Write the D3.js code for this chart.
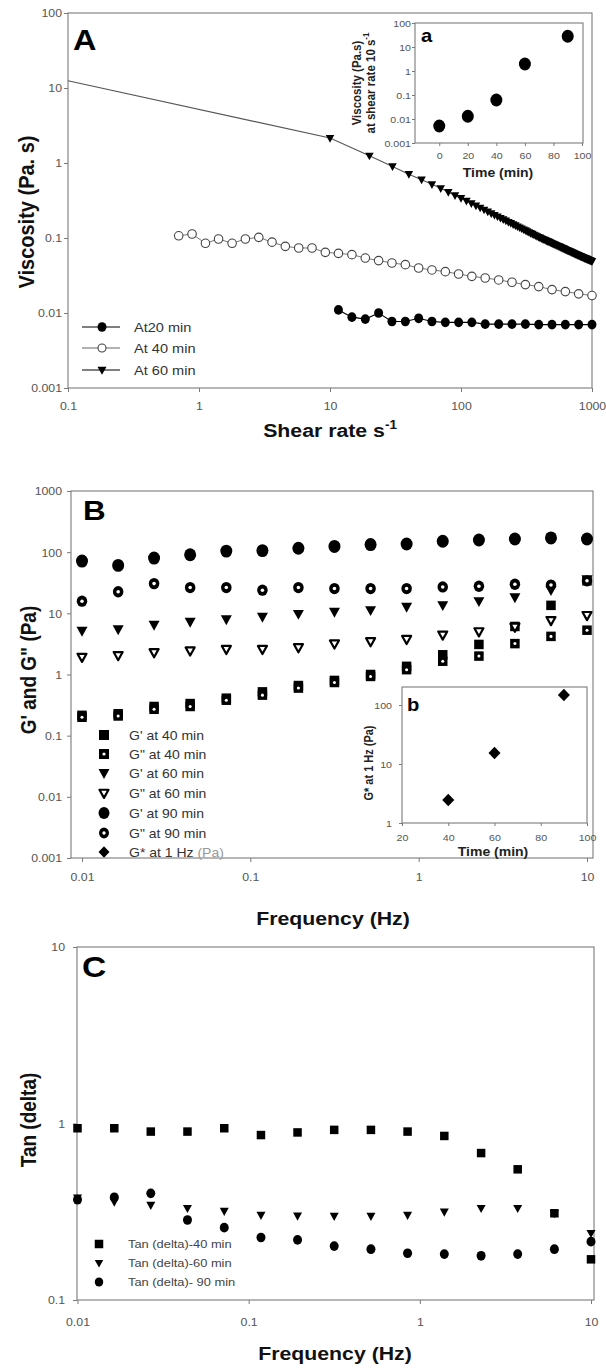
<!DOCTYPE html>
<html><head><meta charset="utf-8">
<script src="https://cdn.jsdelivr.net/npm/d3@7/dist/d3.min.js"></script>
<style>
html,body{margin:0;padding:0;background:#fff;}
svg{display:block;}
</style></head>
<body>
<svg id="chart" width="606" height="1369"></svg>
<script>
// ================= DATA =================
// ---- Panel A : viscosity vs shear rate ----
const shearTicksA = [0.1, 1, 10, 100, 1000];
const shearTickLabelsA = ["0.1", "1", "10", "100", "1000"];
const viscTicksA = [0.001, 0.01, 0.1, 1, 10, 100];
const viscTickLabelsA = ["0.001", "0.01", "0.1", "1", "10", "100"];

const shear20 = [11.6, 14.7, 18.6, 23.5, 29.7, 37.6, 47.5, 60.0, 75.9, 95.9, 121, 153, 194, 245, 310, 392, 495, 626, 791, 1000];
const visc20  = [0.0110, 0.0088, 0.0083, 0.0100, 0.0077, 0.0077, 0.0085, 0.0077, 0.0075, 0.0075, 0.0075, 0.0071, 0.0071, 0.0071, 0.0071, 0.0070, 0.0070, 0.0070, 0.0070, 0.0070];

const shear40 = [0.70, 0.885, 1.12, 1.41, 1.79, 2.26, 2.86, 3.61, 4.56, 5.77, 7.29, 9.21, 11.6, 14.7, 18.6, 23.5, 29.7, 37.6, 47.5, 60.0, 75.9, 95.9, 121, 153, 194, 245, 310, 392, 495, 626, 791, 1000];
const visc40  = [0.107, 0.113, 0.085, 0.097, 0.085, 0.097, 0.102, 0.088, 0.0774, 0.0736, 0.0736, 0.0644, 0.0624, 0.060, 0.054, 0.050, 0.0464, 0.0441, 0.0398, 0.0375, 0.0356, 0.0331, 0.0308, 0.0293, 0.0276, 0.0257, 0.0239, 0.0225, 0.0205, 0.0193, 0.0180, 0.0171];

const shear60 = [10, 20, 30, 40, 50, 60, 70, 80, 90, 100,
  110, 120, 130, 140, 150, 160, 170, 180, 190, 200,
  210, 220, 230, 240, 250, 260, 270, 280, 290, 300,
  310, 320, 330, 340, 350, 360, 370, 380, 390, 400,
  410, 420, 430, 440, 450, 460, 470, 480, 490, 500,
  510, 520, 530, 540, 550, 560, 570, 580, 590, 600,
  610, 620, 630, 640, 650, 660, 670, 680, 690, 700,
  710, 720, 730, 740, 750, 760, 770, 780, 790, 800,
  810, 820, 830, 840, 850, 860, 870, 880, 890, 900,
  910, 920, 930, 940, 950, 960, 970, 980, 990, 1000];
const visc60 = [2.15, 1.25, 0.90, 0.71, 0.60, 0.52, 0.46, 0.41, 0.37, 0.34,
  0.3127, 0.2897, 0.2701, 0.2531, 0.2382, 0.2250, 0.2134, 0.2029, 0.1935, 0.1850,
  0.1773, 0.1702, 0.1637, 0.1578, 0.1523, 0.1471, 0.1424, 0.1379, 0.1338, 0.1299,
  0.1262, 0.1227, 0.1195, 0.1164, 0.1135, 0.1107, 0.1081, 0.1056, 0.1033, 0.1010,
  0.0990, 0.0971, 0.0953, 0.0936, 0.0919, 0.0903, 0.0888, 0.0873, 0.0859, 0.0845,
  0.0832, 0.0819, 0.0806, 0.0794, 0.0783, 0.0772, 0.0761, 0.0750, 0.0740, 0.0730,
  0.0721, 0.0711, 0.0702, 0.0693, 0.0685, 0.0677, 0.0668, 0.0661, 0.0653, 0.0645,
  0.0638, 0.0631, 0.0624, 0.0617, 0.0611, 0.0604, 0.0598, 0.0592, 0.0586, 0.0580,
  0.0575, 0.0569, 0.0564, 0.0559, 0.0554, 0.0549, 0.0544, 0.0540, 0.0535, 0.0531,
  0.0526, 0.0522, 0.0518, 0.0513, 0.0509, 0.0505, 0.0501, 0.0498, 0.0494, 0.0490];
// low-shear extension of the 60 min curve (plain line, no markers)
const fitShear60 = [0.1, 10];
const fitVisc60  = [12.5, 2.15];
const legendA = ["At20 min", "At 40 min", "At 60 min"];

// ---- Inset a : viscosity at 10 s-1 vs time ----
const timeA = [0, 20, 40, 60, 90];
const viscAt10 = [0.0051, 0.013, 0.062, 1.96, 28];
const timeTicksA = [0, 20, 40, 60, 80, 100];
const timeTickLabelsA = ["0", "20", "40", "60", "80", "100"];

// ---- Panel B : G' and G'' vs frequency ----
const freq = [0.01, 0.0164, 0.0268, 0.0439, 0.0720, 0.118, 0.193, 0.316, 0.518, 0.848, 1.39, 2.28, 3.73, 6.11, 10];
const freqTicks = [0.01, 0.1, 1, 10];
const freqTickLabels = ["0.01", "0.1", "1", "10"];
const modTicksB = [0.001, 0.01, 0.1, 1, 10, 100, 1000];
const modTickLabelsB = ["0.001", "0.01", "0.1", "1", "10", "100", "1000"];
const gp40  = [0.215, 0.228, 0.30, 0.335, 0.41, 0.52, 0.66, 0.80, 1.0, 1.36, 2.1, 3.1, 6.1, 13.5, 34];
const gpp40 = [0.20, 0.21, 0.27, 0.30, 0.38, 0.46, 0.60, 0.74, 0.93, 1.2, 1.65, 2.0, 3.2, 4.2, 5.3];
const gp60  = [5.2, 5.5, 6.5, 7.3, 8.0, 8.8, 9.8, 10.6, 11.3, 12.8, 13.6, 15.8, 18.3, 24, 36];
const gpp60 = [1.93, 2.06, 2.3, 2.45, 2.6, 2.6, 2.77, 3.19, 3.47, 3.78, 4.46, 5.05, 6.0, 7.7, 9.3];
const gp90  = [71.5, 60.8, 80, 90.6, 104, 106, 116, 124, 133, 136, 151, 158, 164, 171, 164];
const gpp90 = [15.8, 22.5, 30.6, 26.4, 26.4, 23.9, 26.4, 25.4, 25.4, 25.4, 27, 27.7, 29.9, 29, 34];
const legendB = ["G' at  40 min", "G\" at 40 min", "G' at  60 min", "G\" at  60 min", "G' at  90 min", "G\" at  90 min", "G* at 1 Hz"];

// ---- Inset b : G* at 1 Hz vs time ----
const timeB = [40, 60, 90];
const gStar1Hz = [2.45, 15.4, 148];
const timeTicksB = [20, 40, 60, 80, 100];
const timeTickLabelsB = ["20", "40", "60", "80", "100"];
const gStarTicks = [1, 10, 100];
const gStarTickLabels = ["1", "10", "100"];

// ---- Panel C : tan(delta) vs frequency ----
const tanTicks = [0.1, 1, 10];
const tanTickLabels = ["0.1", "1", "10"];
const tan40 = [0.94, 0.94, 0.90, 0.90, 0.94, 0.86, 0.89, 0.92, 0.92, 0.90, 0.85, 0.68, 0.55, 0.31, 0.17];
const tan60 = [0.38, 0.36, 0.345, 0.331, 0.319, 0.303, 0.30, 0.299, 0.299, 0.303, 0.316, 0.331, 0.331, 0.31, 0.239];
const tan90 = [0.37, 0.382, 0.402, 0.284, 0.257, 0.226, 0.219, 0.202, 0.194, 0.184, 0.182, 0.178, 0.182, 0.194, 0.214];
const legendC = ["Tan (delta)-40 min", "Tan (delta)-60 min", "Tan (delta)- 90 min"];

// ================= DRAWING =================
const FONT = "Arial, 'Liberation Sans', Helvetica, sans-serif";
const SX = 1.12;            // horizontal stretch of the source figure
const FRAME = "#7a7a7a";
const TICK = "#555";
const svg = d3.select("#chart");
const zip = (a, b) => a.map((v, i) => [v, b[i]]);

function label(g, x, y, s, o = {}) {
  const t = g.append("text")
    .attr("transform", `translate(${x},${y}) scale(${o.sx || SX},1)` + (o.rotate ? " rotate(-90)" : ""))
    .attr("font-family", FONT)
    .attr("font-size", o.size || 12)
    .attr("font-weight", o.weight || "normal")
    .attr("text-anchor", o.anchor || "start")
    .attr("fill", o.fill || "#222");
  if (s !== null) t.text(s);
  return t;
}

function frame(g, x0, y0, x1, y1) {
  g.append("rect").attr("x", x0).attr("y", y0).attr("width", x1 - x0).attr("height", y1 - y0)
    .attr("fill", "none").attr("stroke", FRAME).attr("stroke-width", 1.1);
}

function stretch(a) {
  a.selectAll(".tick text").each(function () {
    const t = d3.select(this);
    const x = +t.attr("x") || 0;
    t.attr("x", 0).attr("transform", `translate(${x},0) scale(${SX},1)`);
  });
}

function axes(g, x, y, o) {
  const xa = g.append("g").attr("transform", `translate(0,${o.bottom})`)
    .call(d3.axisBottom(x).tickValues(o.xt).tickFormat((d, i) => o.xl[i]).tickSize(o.ts));
  const ya = g.append("g").attr("transform", `translate(${o.left},0)`)
    .call(d3.axisLeft(y).tickValues(o.yt).tickFormat((d, i) => o.yl[i]).tickSize(o.ts));
  [xa, ya].forEach(a => {
    a.select(".domain").remove();
    a.attr("font-family", FONT).attr("font-size", o.fs);
    a.selectAll(".tick line").attr("stroke", FRAME);
    a.selectAll(".tick text").attr("fill", TICK);
  });
  xa.selectAll(".tick text").attr("y", o.xty).attr("dy", "0.35em");
  ya.selectAll(".tick text").attr("x", -o.yx).attr("dy", "0.35em");
  stretch(xa); stretch(ya);
}

// marker shapes
function triDown(cx, cy, w) {
  const h = w * 0.9;
  return `M${cx - w / 2},${cy - h * 0.4}L${cx + w / 2},${cy - h * 0.4}L${cx},${cy + h * 0.6}Z`;
}
function diamondPath(cx, cy, w, h) {
  return `M${cx},${cy - h / 2}L${cx + w / 2},${cy}L${cx},${cy + h / 2}L${cx - w / 2},${cy}Z`;
}
function marker(g, type, cx, cy, s) {
  switch (type) {
    case "sq":
      g.append("rect").attr("x", cx - s / 2).attr("y", cy - s / 2).attr("width", s).attr("height", s).attr("fill", "#000");
      break;
    case "sqdot":
      g.append("rect").attr("x", cx - s / 2).attr("y", cy - s / 2).attr("width", s).attr("height", s).attr("fill", "#000");
      g.append("circle").attr("cx", cx).attr("cy", cy).attr("r", s * 0.16).attr("fill", "#fff");
      break;
    case "tri":
      g.append("path").attr("d", triDown(cx, cy, s)).attr("fill", "#000");
      break;
    case "triopen":
      g.append("path").attr("d", triDown(cx, cy, s * 0.82)).attr("fill", "#fff").attr("stroke", "#000").attr("stroke-width", s * 0.2).attr("stroke-linejoin", "round");
      break;
    case "circ":
      g.append("ellipse").attr("cx", cx).attr("cy", cy).attr("rx", s / 2).attr("ry", s / 2 * 1.08).attr("fill", "#000");
      break;
    case "ring":
      g.append("ellipse").attr("cx", cx).attr("cy", cy).attr("rx", s / 2).attr("ry", s / 2 * 1.08).attr("fill", "#000");
      g.append("circle").attr("cx", cx).attr("cy", cy).attr("r", s * 0.17).attr("fill", "#fff");
      break;
    case "opencirc":
      g.append("circle").attr("cx", cx).attr("cy", cy).attr("r", s / 2).attr("fill", "#fff").attr("stroke", "#444").attr("stroke-width", 1.1);
      break;
    case "diamond":
      g.append("path").attr("d", diamondPath(cx, cy, s, s * 1.05)).attr("fill", "#000");
      break;
  }
}

// ---------------- Panel A ----------------
const gA = svg.append("g");
const xA = d3.scaleLog().domain([0.1, 1000]).range([68, 592]);
const yA = d3.scaleLog().domain([0.001, 100]).range([388, 13]);
frame(gA, 68, 13, 592, 388);
axes(gA, xA, yA, { left: 68, bottom: 388, xt: shearTicksA, xl: shearTickLabelsA, yt: viscTicksA, yl: viscTickLabelsA, ts: 4, fs: 11, xty: 18, yx: 6 });

const lineA = d3.line().x(d => xA(d[0])).y(d => yA(d[1]));
// 60 min: extension line + data
gA.append("path").datum(zip(fitShear60, fitVisc60).concat(zip(shear60, visc60)))
  .attr("d", lineA).attr("fill", "none").attr("stroke", "#555").attr("stroke-width", 1.1);
// 40 min
gA.append("path").datum(zip(shear40, visc40)).attr("d", lineA).attr("fill", "none").attr("stroke", "#777").attr("stroke-width", 1);
// 20 min
gA.append("path").datum(zip(shear20, visc20)).attr("d", lineA).attr("fill", "none").attr("stroke", "#000").attr("stroke-width", 1.1);

const mA = gA.append("g");
zip(shear40, visc40).forEach(d => marker(mA, "opencirc", xA(d[0]), yA(d[1]), 8.5));
zip(shear20, visc20).forEach(d => marker(mA, "circ", xA(d[0]), yA(d[1]), 9));
zip(shear60, visc60).forEach(d => marker(mA, "tri", xA(d[0]), yA(d[1]), 8.5));

label(gA, 73, 50, "A", { size: 29, weight: "bold", fill: "#000" });
label(gA, 34, 212, "Viscosity (Pa. s)", { size: 20, weight: "bold", anchor: "middle", rotate: true, fill: "#111" });
const tA = label(gA, 330, 437, null, { size: 19, weight: "bold", anchor: "middle", fill: "#111" });
tA.append("tspan").text("Shear rate s");
tA.append("tspan").attr("dy", -8).attr("font-size", 12).text("-1");

// legend A
const legTypesA = ["circ", "opencirc", "tri"];
const legLineA = ["#000", "#666", "#000"];
const legYA = [327, 348, 370];
legendA.forEach((s, i) => {
  gA.append("line").attr("x1", 82).attr("x2", 120).attr("y1", legYA[i]).attr("y2", legYA[i]).attr("stroke", legLineA[i]).attr("stroke-width", 1.1);
  marker(gA, legTypesA[i], 102, legYA[i], i === 1 ? 8 : 9);
  label(gA, 134, legYA[i] + 5, s, { size: 13, fill: "#333" });
});

// ---------------- Inset a ----------------
const ga = svg.append("g");
const xa = d3.scaleLinear().domain([-17, 100]).range([415, 582]);
const ya = d3.scaleLog().domain([0.001, 100]).range([143, 23]);
ga.append("rect").attr("x", 415).attr("y", 23).attr("width", 168).attr("height", 120).attr("fill", "#fff");
frame(ga, 415, 23, 583, 143);
axes(ga, xa, ya, { left: 415, bottom: 143, xt: timeTicksA, xl: timeTickLabelsA, yt: viscTicksA, yl: viscTickLabelsA, ts: 3, fs: 9.5, xty: 13, yx: 4 });
zip(timeA, viscAt10).forEach(d => marker(ga, "circ", xa(d[0]), ya(d[1]), 12));
label(ga, 421, 42, "a", { size: 18, weight: "bold", fill: "#000" });
label(ga, 361, 83, "Viscosity (Pa.s)", { size: 11.5, weight: "bold", anchor: "middle", rotate: true, fill: "#222" });
const ta2 = label(ga, 375, 83, null, { size: 11.5, weight: "bold", anchor: "middle", rotate: true, fill: "#222" });
ta2.append("tspan").text("at shear rate 10 s");
ta2.append("tspan").attr("dy", -5).attr("font-size", 8).text("-1");
label(ga, 498, 177, "Time (min)", { size: 12.5, weight: "bold", anchor: "middle", fill: "#222" });

// ---------------- Panel B ----------------
const gB = svg.append("g");
const xB = d3.scaleLog().domain([0.01, 10]).range([82, 587]);
const yB = d3.scaleLog().domain([0.001, 1000]).range([858, 491]);
frame(gB, 71, 491, 593, 858);
axes(gB, xB, yB, { left: 71, bottom: 858, xt: freqTicks, xl: freqTickLabels, yt: modTicksB, yl: modTickLabelsB, ts: 4, fs: 11, xty: 19, yx: 9 });

const seriesB = [
  { v: gp40, t: "sq", s: 9.5 },
  { v: gpp40, t: "sqdot", s: 9.5 },
  { v: gp60, t: "tri", s: 11 },
  { v: gpp60, t: "triopen", s: 11 },
  { v: gp90, t: "circ", s: 12 },
  { v: gpp90, t: "ring", s: 10.5 }
];
const mB = gB.append("g");
seriesB.forEach(sr => freq.forEach((f, i) => marker(mB, sr.t, xB(f), yB(sr.v[i]), sr.s)));

label(gB, 83, 520, "B", { size: 28, weight: "bold", fill: "#000" });
label(gB, 36, 670, "G' and G\" (Pa)", { size: 19, weight: "bold", anchor: "middle", rotate: true, fill: "#111" });
label(gB, 333, 925, "Frequency (Hz)", { size: 19, weight: "bold", anchor: "middle", fill: "#111" });

// legend B
const legTypesB = ["sq", "sqdot", "tri", "triopen", "circ", "ring", "diamond"];
const legSizeB = [10, 10, 11, 11, 11, 10, 11];
const legYB = [735, 754, 773, 793, 813, 833, 852];
legendB.forEach((s, i) => {
  marker(gB, legTypesB[i], 104, legYB[i], legSizeB[i]);
  const t = label(gB, 129, legYB[i] + 4.5, null, { size: 12.5, fill: "#333" });
  t.append("tspan").text(s);
  if (i === 6) t.append("tspan").attr("fill", "#999").text(" (Pa)");
});

// ---------------- Inset b ----------------
const gb = svg.append("g");
const xb = d3.scaleLinear().domain([20, 100]).range([402, 587]);
const yb = d3.scaleLog().domain([1, 202]).range([823, 687]);
frame(gb, 402, 687, 587, 823);
axes(gb, xb, yb, { left: 402, bottom: 823, xt: timeTicksB, xl: timeTickLabelsB, yt: gStarTicks, yl: gStarTickLabels, ts: 3, fs: 9.5, xty: 15, yx: 10 });
zip(timeB, gStar1Hz).forEach(d => marker(gb, "diamond", xb(d[0]), yb(d[1]), 12));
label(gb, 407, 711, "b", { size: 18, weight: "bold", fill: "#000" });
label(gb, 373, 763, "G* at 1 Hz (Pa)", { size: 11, weight: "bold", anchor: "middle", rotate: true, fill: "#222" });
label(gb, 493, 856, "Time  (min)", { size: 12.5, weight: "bold", anchor: "middle", fill: "#222" });

// ---------------- Panel C ----------------
const gC = svg.append("g");
const xC = d3.scaleLog().domain([0.01, 10]).range([77.5, 591]);
const yC = d3.scaleLog().domain([0.1, 10]).range([1300, 947]);
frame(gC, 77, 947, 594, 1300);
axes(gC, xC, yC, { left: 77, bottom: 1300, xt: freqTicks, xl: freqTickLabels, yt: tanTicks, yl: tanTickLabels, ts: 4, fs: 11, xty: 22, yx: 12 });

const seriesC = [
  { v: tan40, t: "sq", s: 8.5 },
  { v: tan60, t: "tri", s: 9 },
  { v: tan90, t: "circ", s: 9 }
];
const mC = gC.append("g");
seriesC.forEach(sr => freq.forEach((f, i) => marker(mC, sr.t, xC(f), yC(sr.v[i]), sr.s)));

label(gC, 82, 977, "C", { size: 30, weight: "bold", fill: "#000" });
label(gC, 36, 1120, "Tan (delta)", { size: 19, weight: "bold", anchor: "middle", rotate: true, fill: "#111" });
label(gC, 335, 1360, "Frequency (Hz)", { size: 19, weight: "bold", anchor: "middle", fill: "#111" });

const legTypesC = ["sq", "tri", "circ"];
const legYC = [1244, 1263, 1282];
legendC.forEach((s, i) => {
  marker(gC, legTypesC[i], 99, legYC[i], 8.5);
  label(gC, 128, legYC[i] + 4, s, { size: 11.5, fill: "#444" });
});
</script>
</body></html>
